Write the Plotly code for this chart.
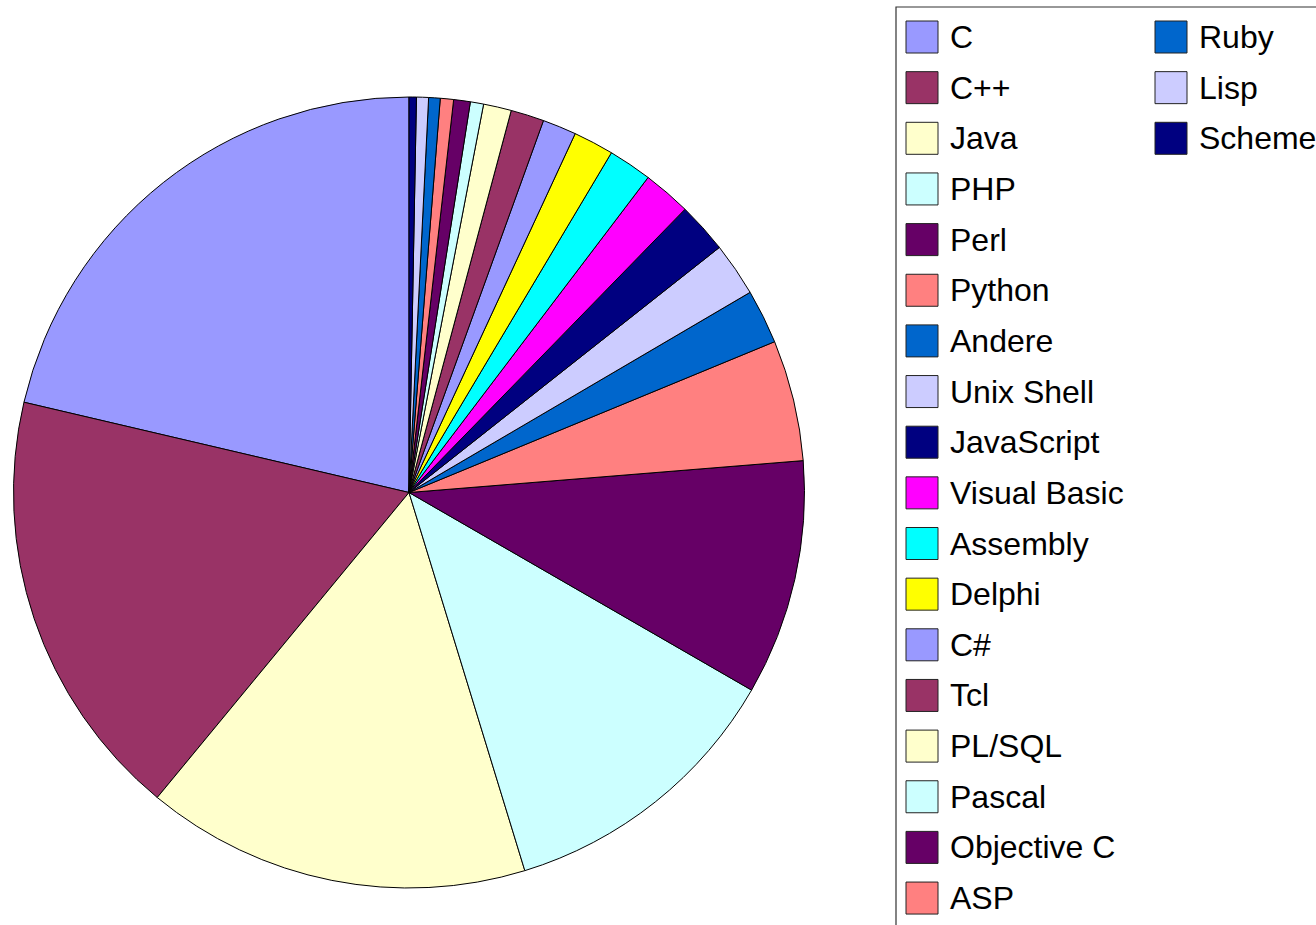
import plotly.graph_objects as go

W, H = 1316, 925

labels = ["C", "C++", "Java", "PHP", "Perl", "Python", "Andere", "Unix Shell",
          "JavaScript", "Visual Basic", "Assembly", "Delphi", "C#", "Tcl",
          "PL/SQL", "Pascal", "Objective C", "ASP", "Ruby", "Lisp", "Scheme"]
values = [21.33, 17.68, 15.71, 11.94, 9.61, 4.94, 2.22, 2.19,
          2.07, 1.96, 1.78, 1.65, 1.38, 1.36,
          1.14, 0.54, 0.68, 0.54, 0.47, 0.49, 0.30]
colors = ["#9999ff", "#993366", "#ffffcc", "#ccffff", "#660066", "#ff8080",
          "#0066cc", "#ccccff", "#000080", "#ff00ff", "#00ffff", "#ffff00",
          "#9999ff", "#993366", "#ffffcc", "#ccffff", "#660066", "#ff8080",
          "#0066cc", "#ccccff", "#000080"]


def px(x):
    return x / W


def py(y):
    return (H - y) / H


cx, cy, r = 409, 492.5, 395.5
# plotly places the first counterclockwise slice ending at `rotation`;
# shift so that the first slice starts at 12 o'clock
first_deg = values[0] / sum(values) * 360

fig = go.Figure(go.Pie(
    labels=labels, values=values, sort=False,
    direction="counterclockwise", rotation=-first_deg,
    marker=dict(colors=colors, line=dict(color="#000000", width=1)),
    textinfo="none", hoverinfo="label+percent",
    showlegend=False,
    domain=dict(x=[px(cx - r), px(cx + r)],
                y=[py(cy + r), py(cy - r)]),
))

shapes = []
annotations = []
# legend frame
shapes.append(dict(type="rect", xref="paper", yref="paper",
                   x0=px(896), x1=px(1360), y0=py(960), y1=py(7),
                   line=dict(color="#333333", width=1.2), fillcolor="rgba(0,0,0,0)"))
rows = 18
row_h = 50.65
for i, (lab, col) in enumerate(zip(labels, colors)):
    c = i // rows
    rr = i % rows
    sx = 906 if c == 0 else 1155
    tx = 948 if c == 0 else 1197
    top = 21 + rr * row_h
    shapes.append(dict(type="rect", xref="paper", yref="paper",
                       x0=px(sx), x1=px(sx + 32),
                       y0=py(top + 32), y1=py(top),
                       line=dict(color="#222222", width=1), fillcolor=col))
    annotations.append(dict(xref="paper", yref="paper", x=px(tx),
                            y=py(top + 16), text=lab, showarrow=False,
                            xanchor="left", yanchor="middle",
                            font=dict(family="Liberation Sans, Arial, sans-serif",
                                      size=32, color="#000000")))

fig.update_layout(width=W, height=H, margin=dict(l=0, r=0, t=0, b=0),
                  paper_bgcolor="#ffffff", plot_bgcolor="#ffffff",
                  shapes=shapes, annotations=annotations)

fig.write_html("out.html",
               config={"displayModeBar": False},
               post_script="document.body.style.margin='0';"
                           "document.body.style.overflow='hidden';")
